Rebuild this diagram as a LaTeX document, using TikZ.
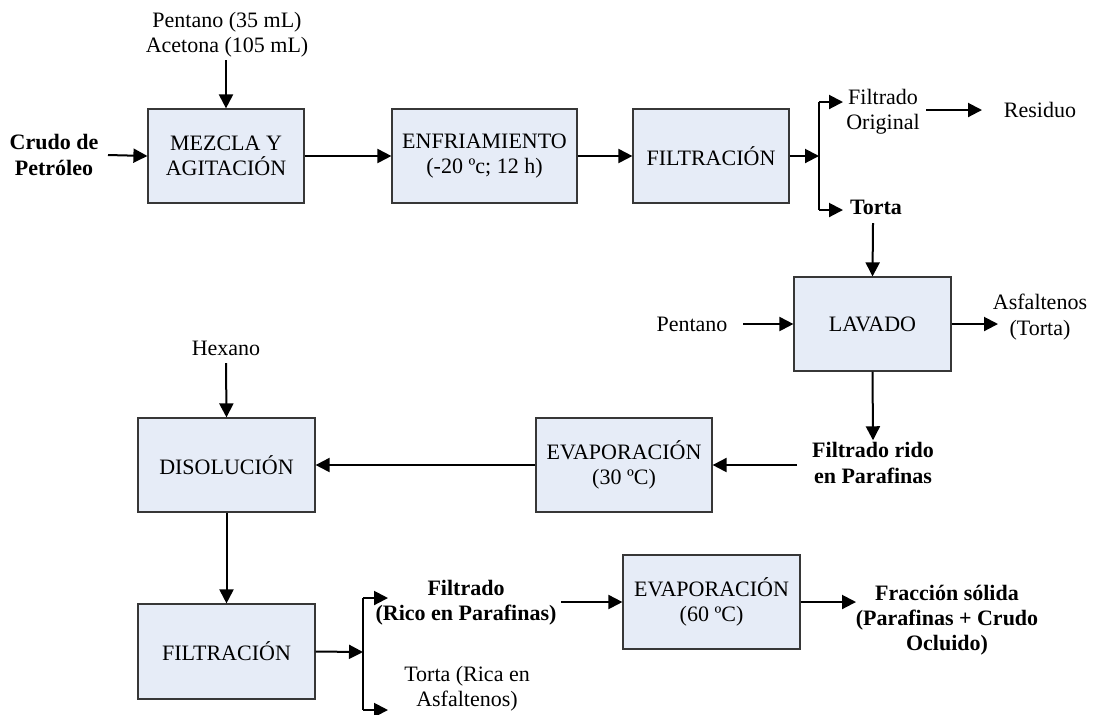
\documentclass[tikz,border=0pt]{standalone}
\usepackage{fontspec}
\setmainfont{Liberation Serif}
\usetikzlibrary{arrows.meta}
\definecolor{boxfill}{RGB}{230,236,247}
\definecolor{boxline}{RGB}{55,55,55}
\begin{document}
\begin{tikzpicture}[x=0.5pt,y=-0.5pt,
  procbox/.style={draw=boxline,fill=boxfill,line width=0.6pt,minimum height=47pt,align=center,inner sep=2pt,font=\fontsize{11}{12.6}\selectfont},
  lbl/.style={align=center,inner sep=1pt,font=\fontsize{11}{12.6}\selectfont},
  blbl/.style={lbl,font=\fontsize{11}{12.6}\selectfont\bfseries},
  arr/.style={line width=1pt,-{Triangle[length=7pt,width=7pt]}},
  ln/.style={line width=1pt}]
\useasboundingbox (0,0) rectangle (1095,714);
% process boxes
\node[procbox,minimum width=78pt] (mez) at (226,156) {MEZCLA Y\\AGITACIÓN};
\node[procbox,minimum width=92.5pt] (enf) at (484.5,156) {ENFRIAMIENTO\\(-20 ºc; 12 h)};
\node[procbox,minimum width=78pt] (fil1) at (711,156) {FILTRACIÓN};
\node[procbox,minimum width=78.5pt] (lav) at (872.5,324) {LAVADO};
\node[procbox,minimum width=88pt] (ev30) at (624,465) {EVAPORACIÓN\\(30 ºC)};
\node[procbox,minimum width=88.5pt] (dis) at (226.5,465) {DISOLUCIÓN};
\node[procbox,minimum width=88.5pt,minimum height=47.5pt] (fil2) at (226.5,651.5) {FILTRACIÓN};
\node[procbox,minimum width=88.5pt] (ev60) at (711.5,602) {EVAPORACIÓN\\(60 ºC)};
% labels
\node[blbl] (crudo) at (54,155) {Crudo de\\Petróleo};
\node[lbl] (pa) at (227,35) {Pentano (35 mL)\\Acetona (105 mL)};
\node[lbl] (forig) at (883,112) {Filtrado\\Original};
\node[lbl] (resid) at (1040,110) {Residuo};
\node[blbl] (torta) at (876,207) {Torta};
\node[lbl] (pent) at (692,324) {Pentano};
\node[lbl] (asf) at (1040,317) {Asfaltenos\\(Torta)};
\node[blbl] (frido) at (873,463) {Filtrado rido\\en Parafinas};
\node[lbl] (hex) at (226,348) {Hexano};
\node[blbl] (frico) at (466,603) {Filtrado\\(Rico en Parafinas)};
\node[lbl] (torta2) at (467,689) {Torta (Rica en\\Asfaltenos)};
\node[blbl] (frac) at (947,620) {Fracción sólida\\(Parafinas + Crudo\\Ocluido)};
% connector end points
\coordinate (s1) at (819,156);
\coordinate (s1t) at (819,102);
\coordinate (s1b) at (819,210);
\coordinate (s2) at (363,652);
\coordinate (s2t) at (363,598);
\coordinate (s2b) at (363,710);
\coordinate (crs) at (108,155);
\coordinate (pae) at (226,60);
\coordinate (hexe) at (226,363);
\coordinate (torte) at (873,223);
\coordinate (tfr) at (843,102);
\coordinate (tto) at (843,210);
\coordinate (fos) at (926,110);
\coordinate (foe) at (982,110);
\coordinate (pes) at (743,324);
\coordinate (ase) at (998,324);
\coordinate (frs) at (797,465);
\coordinate (tfrico) at (388,598);
\coordinate (ttorta2) at (388,710);
\coordinate (fcs) at (561,602);
\coordinate (fre) at (856,602);
% connectors
\draw[arr] (crs) -- (mez.west);
\draw[arr] (pae) -- (mez.north);
\draw[arr] (mez.east) -- (enf.west);
\draw[arr] (enf.east) -- (fil1.west);
\draw[arr] (fil1.east) -- (s1);
\draw[ln] (s1t) -- (s1b);
\draw[arr] (s1t) -- (tfr);
\draw[arr] (s1b) -- (tto);
\draw[arr] (fos) -- (foe);
\draw[arr] (torte) -- (lav.north);
\draw[arr] (pes) -- (lav.west);
\draw[arr] (lav.east) -- (ase);
\draw[arr] (lav.south) -- (frido.north);
\draw[arr] (frs) -- (ev30.east);
\draw[arr] (ev30.west) -- (dis.east);
\draw[arr] (hexe) -- (dis.north);
\draw[arr] (dis.south) -- (fil2.north);
\draw[arr] (fil2.east) -- (s2);
\draw[ln] (s2t) -- (s2b);
\draw[arr] (s2t) -- (tfrico);
\draw[arr] (s2b) -- (ttorta2);
\draw[arr] (fcs) -- (ev60.west);
\draw[arr] (ev60.east) -- (fre);
\end{tikzpicture}
\end{document}
